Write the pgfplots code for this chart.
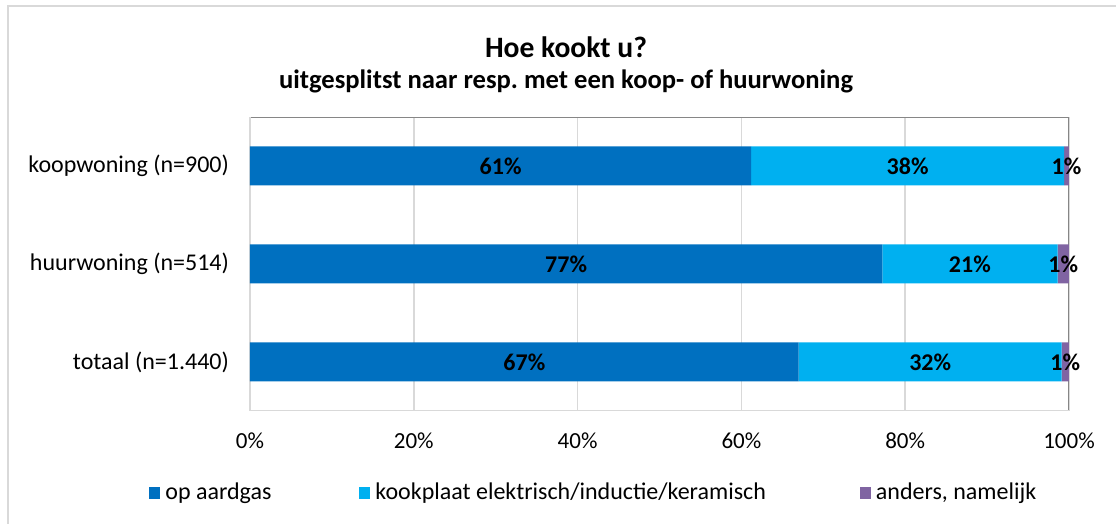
\documentclass[border=0pt]{standalone}
\usepackage{pgfplots}
\pgfplotsset{compat=1.18}
\usepackage{fontspec}
\setmainfont{Carlito}
\frenchspacing
\definecolor{gasblue}{HTML}{0070C0}
\definecolor{elekblue}{HTML}{00B0F0}
\definecolor{andpurple}{HTML}{8064A2}
\definecolor{gridgray}{HTML}{D9D9D9}
\definecolor{axisgray}{HTML}{868686}

\pgfplotsset{chartframe/.style={
  at={(125pt,56.5pt)}, anchor=south west,
  width=409.5pt, height=147pt, scale only axis,
  xmin=0, xmax=100, ymin=-0.5, ymax=2.5}}

\begin{document}
\begin{tikzpicture}[x=1pt,y=1pt]
\useasboundingbox (0,0) rectangle (558,262);
\draw[gridgray, line width=1pt] (4,0) -- (4,259) -- (558,259);
\node[font=\bfseries\fontsize{14.8}{17}\selectfont] at (283,238.5) {Hoe kookt u?};
\node[font=\bfseries\fontsize{13.3}{15}\selectfont] at (283,221.5) {uitgesplitst naar resp. met een koop- of huurwoning};
\begin{axis}[
  chartframe,
  xbar stacked, bar width=19.5pt,
  ytick={0,1,2},
  yticklabels={totaal (n=1.440), huurwoning (n=514), koopwoning (n=900)},
  xtick={0,20,...,100},
  /pgf/number format/assume math mode=true,
  xticklabel={\pgfmathprintnumber{\tick}\%},
  major tick length=0pt,
  xticklabel style={font=\fontsize{11.5}{13}\selectfont, yshift=-7.5pt},
  yticklabel style={font=\fontsize{12}{14}\selectfont, xshift=-7pt},
  axis line style={draw=none},
  xmajorgrids, grid style={gridgray, line width=0.8pt},
  legend columns=3,
  legend style={at={(0.421,-0.279)}, anchor=center, draw=none,
    font=\fontsize{12}{14}\selectfont,
    /tikz/every odd column/.append style={column sep=0.5pt},
    /tikz/column 2/.style={column sep=42pt},
    /tikz/column 4/.style={column sep=45pt}},
  legend image code/.code={\fill[#1] (0pt,-3pt) rectangle (5.5pt,3pt);},
]
\addplot[fill=gasblue, draw=none] coordinates {(61.2,2) (77.2,1) (67.0,0)};
\addlegendentry{op aardgas}
\addplot[fill=elekblue, draw=none] coordinates {(38.2,2) (21.4,1) (32.1,0)};
\addlegendentry{kookplaat elektrisch/inductie/keramisch}
\addplot[fill=andpurple, draw=none] coordinates {(0.6,2) (1.4,1) (0.9,0)};
\addlegendentry{anders, namelijk}
\draw[gridgray, line width=1pt] (rel axis cs:0,1) -- (rel axis cs:0,0) -- (rel axis cs:1,0);
\draw[axisgray, line width=1pt] (rel axis cs:0,1) -- (rel axis cs:1,1) -- (rel axis cs:1,0);
\end{axis}
% value labels, centred in each segment
\begin{axis}[
  chartframe, hide axis,
  /pgf/number format/assume math mode=true,
  nodes near coords={\pgfmathprintnumber[fixed,precision=0]{\pgfplotspointmeta}\%},
  every node near coord/.append style={font=\bfseries\fontsize{12}{14}\selectfont, anchor=center},
]
\addplot[draw=none, mark=none, point meta=explicit] coordinates {
  (30.6,2) [61] (80.3,2) [38] (99.7,2) [1]
  (38.6,1) [77] (87.9,1) [21] (99.3,1) [1]
  (33.5,0) [67] (83.05,0) [32] (99.55,0) [1]
};
\end{axis}
\end{tikzpicture}
\end{document}
